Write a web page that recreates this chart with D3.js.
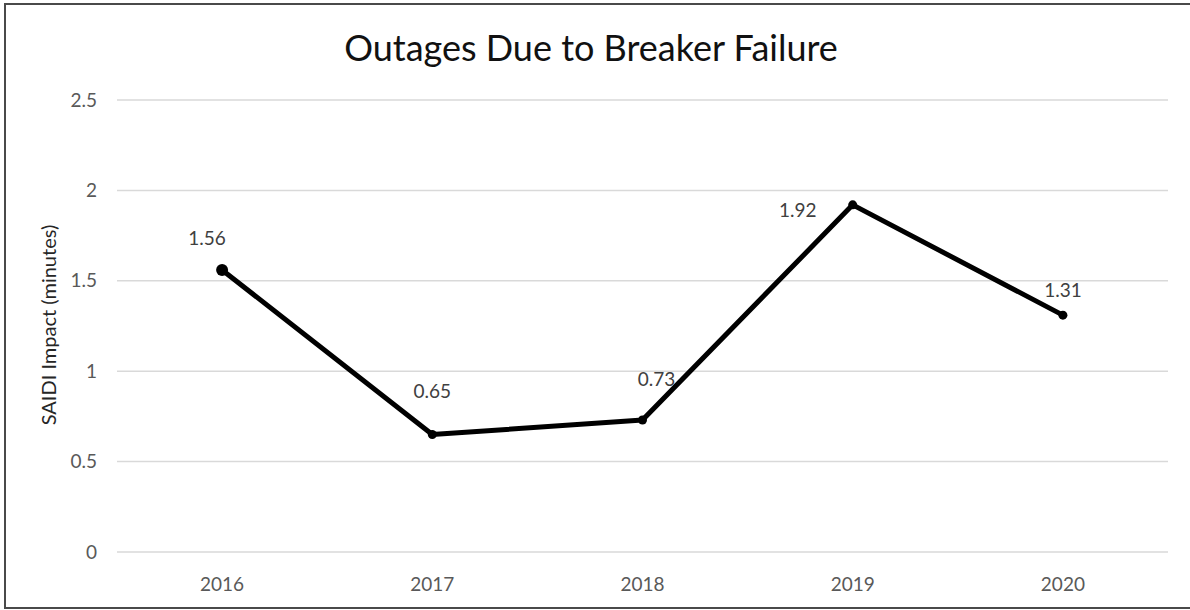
<!DOCTYPE html>
<html>
<head>
<meta charset="utf-8">
<script src="https://cdn.jsdelivr.net/npm/d3@7"></script>
<style>
  body { margin: 0; background: #fff; }
  text { font-family: Lato, "Open Sans", sans-serif; }
</style>
</head>
<body>
<svg id="chart" width="1190" height="610"></svg>
<script>
const years = ["2016", "2017", "2018", "2019", "2020"];
const saidi = [1.56, 0.65, 0.73, 1.92, 1.31];
const yTicks = [0, 0.5, 1, 1.5, 2, 2.5];

// label nudges (dx, dy) relative to the point
const labelShift = [[-15, -32], [0, -43], [14, -41], [-55, 5], [0, -25]];

const svg = d3.select("#chart");

// outer frame
svg.append("rect")
    .attr("x", 5).attr("y", 4)
    .attr("width", 1190).attr("height", 604)
    .attr("fill", "none")
    .attr("stroke", "#4a4a4a")
    .attr("stroke-width", 2);

const x = d3.scaleBand().domain(years).range([117, 1168]);
const y = d3.scaleLinear().domain([0, 2.5]).range([552, 100]);

// gridlines
svg.append("g")
    .selectAll("line")
    .data(yTicks)
    .join("line")
    .attr("x1", 117).attr("x2", 1168)
    .attr("y1", d => y(d)).attr("y2", d => y(d))
    .attr("stroke", "#d9d9d9")
    .attr("stroke-width", 1.5);

// y axis labels
svg.append("g")
    .selectAll("text")
    .data(yTicks)
    .join("text")
    .attr("x", 97)
    .attr("y", d => y(d))
    .attr("dy", "0.35em")
    .attr("text-anchor", "end")
    .attr("font-size", 19)
    .attr("fill", "#595959")
    .text(d => d);

// x axis labels
svg.append("g")
    .selectAll("text")
    .data(years)
    .join("text")
    .attr("x", d => x(d) + x.bandwidth() / 2)
    .attr("y", 584)
    .attr("dy", "0.35em")
    .attr("text-anchor", "middle")
    .attr("font-size", 19)
    .attr("fill", "#595959")
    .text(d => d);

// title
svg.append("text")
    .attr("x", 591)
    .attr("y", 48)
    .attr("dy", "0.35em")
    .attr("text-anchor", "middle")
    .attr("font-size", 36)
    .attr("fill", "#111")
    .text("Outages Due to Breaker Failure");

// y axis title
svg.append("text")
    .attr("transform", "translate(49,325) rotate(-90)")
    .attr("dy", "0.35em")
    .attr("text-anchor", "middle")
    .attr("font-size", 20)
    .attr("fill", "#262626")
    .text("SAIDI Impact (minutes)");

const pts = years.map((yr, i) => ({ yr, v: saidi[i], i }));

const line = d3.line()
    .x(d => x(d.yr) + x.bandwidth() / 2)
    .y(d => y(d.v));

svg.append("path")
    .datum(pts)
    .attr("d", line)
    .attr("fill", "none")
    .attr("stroke", "#000")
    .attr("stroke-width", 5)
    .attr("stroke-linejoin", "round");

svg.append("g")
    .selectAll("circle")
    .data(pts)
    .join("circle")
    .attr("cx", d => x(d.yr) + x.bandwidth() / 2)
    .attr("cy", d => y(d.v))
    .attr("r", d => d.i === 0 ? 6 : 4.5)
    .attr("fill", "#000");

// data labels
svg.append("g")
    .selectAll("text")
    .data(pts)
    .join("text")
    .attr("x", d => x(d.yr) + x.bandwidth() / 2 + labelShift[d.i][0])
    .attr("y", d => y(d.v) + labelShift[d.i][1])
    .attr("dy", "0.35em")
    .attr("text-anchor", "middle")
    .attr("font-size", 19)
    .attr("fill", "#404040")
    .text(d => d.v.toFixed(2));
</script>
</body>
</html>
